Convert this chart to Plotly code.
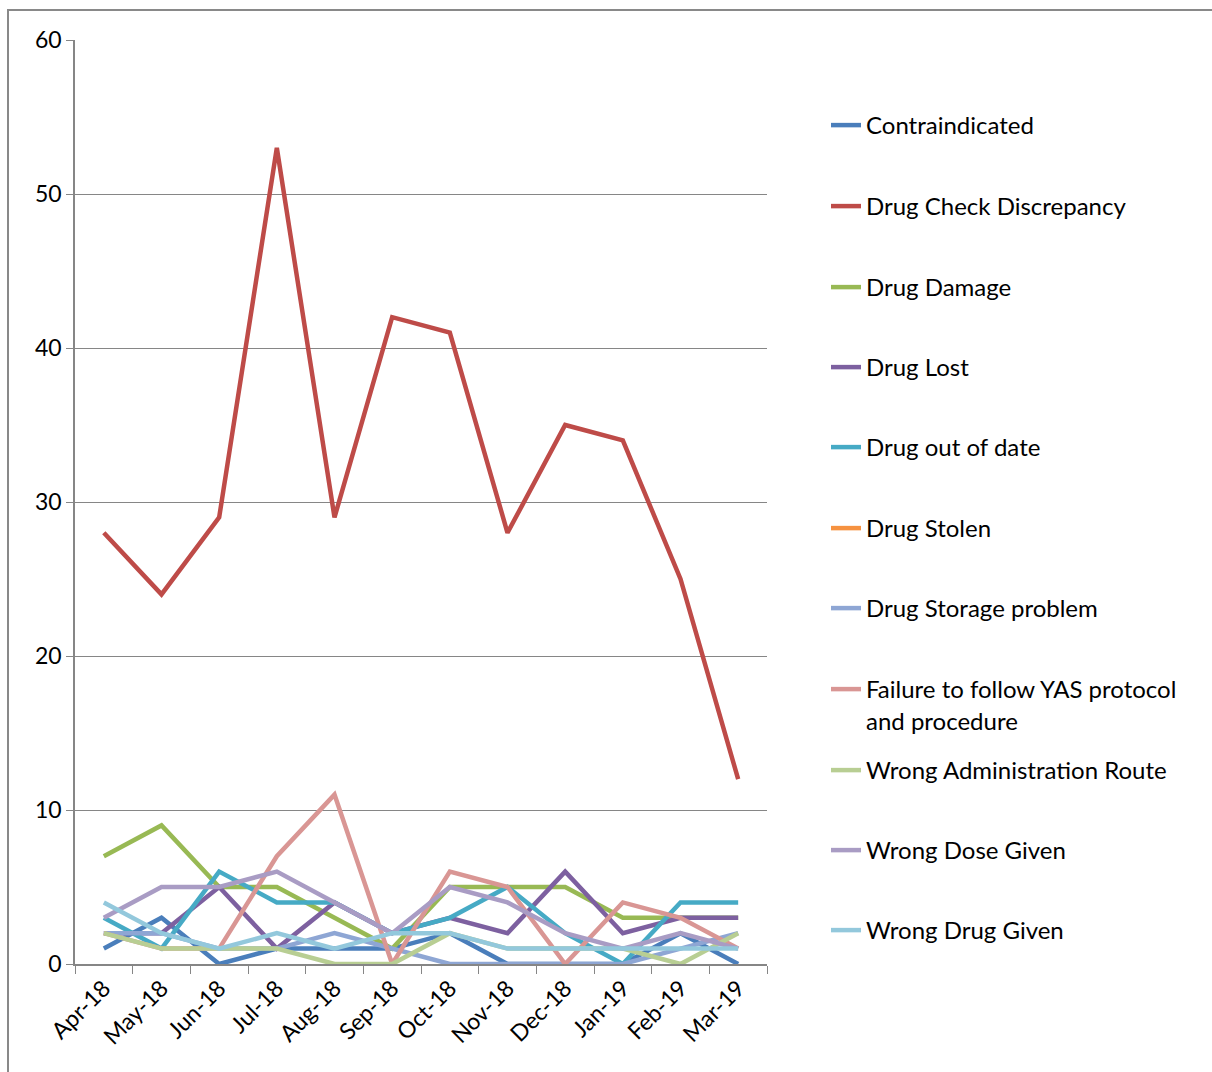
import plotly.graph_objects as go

months = ["Apr-18", "May-18", "Jun-18", "Jul-18", "Aug-18", "Sep-18",
          "Oct-18", "Nov-18", "Dec-18", "Jan-19", "Feb-19", "Mar-19"]

contraindicated = [1, 3, 0, 1, 1, 1, 2, 0, 0, 0, 2, 0]
drug_check_discrepancy = [28, 24, 29, 53, 29, 42, 41, 28, 35, 34, 25, 12]
drug_damage = [7, 9, 5, 5, 3, 1, 5, 5, 5, 3, 3, 3]
drug_lost = [2, 2, 5, 1, 4, 2, 3, 2, 6, 2, 3, 3]
drug_out_of_date = [3, 1, 6, 4, 4, 2, 3, 5, 2, 0, 4, 4]
drug_stolen = [None] * 12
drug_storage_problem = [2, 2, 1, 1, 2, 1, 0, 0, 0, 0, 1, 2]
failure_to_follow = [2, 1, 1, 7, 11, 0, 6, 5, 0, 4, 3, 1]
wrong_admin_route = [2, 1, 1, 1, 0, 0, 2, 1, 1, 1, 0, 2]
wrong_dose_given = [3, 5, 5, 6, 4, 2, 5, 4, 2, 1, 2, 1]
wrong_drug_given = [4, 2, 1, 2, 1, 2, 2, 1, 1, 1, 1, 1]

series = [
    ("Contraindicated", contraindicated, "#4A7EBB"),
    ("Drug Check Discrepancy", drug_check_discrepancy, "#BE4B48"),
    ("Drug Damage", drug_damage, "#98B954"),
    ("Drug Lost", drug_lost, "#7D60A0"),
    ("Drug out of date", drug_out_of_date, "#46AAC5"),
    ("Drug Stolen", drug_stolen, "#F69240"),
    ("Drug Storage problem", drug_storage_problem, "#8EA6D4"),
    ("Failure to follow YAS protocol<br>and procedure", failure_to_follow, "#D99694"),
    ("Wrong Administration Route", wrong_admin_route, "#B8CE93"),
    ("Wrong Dose Given", wrong_dose_given, "#A99CC4"),
    ("Wrong Drug Given", wrong_drug_given, "#93C8DC"),
]

# legend symbol centre rows (pixels from top of page)
legend_rows = [126, 207, 288, 368, 448, 529, 609, 690, 771, 851, 931]

W, H = 1212, 1072
fig = go.Figure()
layout_legends = {}
for i, (name, vals, col) in enumerate(series):
    lname = "legend" if i == 0 else f"legend{i+1}"
    fig.add_trace(go.Scatter(
        x=months, y=vals, name=name, mode="lines",
        line=dict(color=col, width=4.5),
        legend=lname,
    ))
    ypix = legend_rows[i]
    layout_legends[lname] = dict(
        xref="container", yref="container",
        x=826 / W, y=1 - (ypix - 23) / H,
        xanchor="left", yanchor="top",
        valign="top",
        bgcolor="rgba(0,0,0,0)",
        font=dict(family="Lato, sans-serif", size=24, color="#000000"),
        itemwidth=30,
    )

fig.update_layout(
    width=W, height=H,
    margin=dict(l=75, r=445, t=40, b=108),
    paper_bgcolor="white", plot_bgcolor="white",
    showlegend=True,
    **layout_legends,
)

fig.update_xaxes(
    type="category", range=[-0.5, 11.5],
    showline=True, linecolor="#868686", linewidth=1.5,
    ticks="outside", tickson="boundaries", ticklen=8, tickcolor="#868686",
    tickangle=-45, showgrid=False, zeroline=False,
    tickfont=dict(family="Lato, sans-serif", size=23, color="#000000"),
)
fig.update_yaxes(
    range=[0, 60], dtick=10,
    showline=True, linecolor="#868686", linewidth=1.5,
    ticks="outside", ticklen=7, tickcolor="#868686",
    showgrid=True, gridcolor="#868686", gridwidth=1, zeroline=False,
    tickfont=dict(family="Lato, sans-serif", size=23, color="#000000"),
)

# outer chart border
fig.add_shape(type="rect", xref="paper", yref="paper",
              x0=(8 - 75) / 692, x1=(1230 - 75) / 692,
              y0=-(1100 - 964) / 924, y1=1 + (40 - 10) / 924,
              line=dict(color="#898989", width=2), layer="below")

fig.write_html("out.html")
